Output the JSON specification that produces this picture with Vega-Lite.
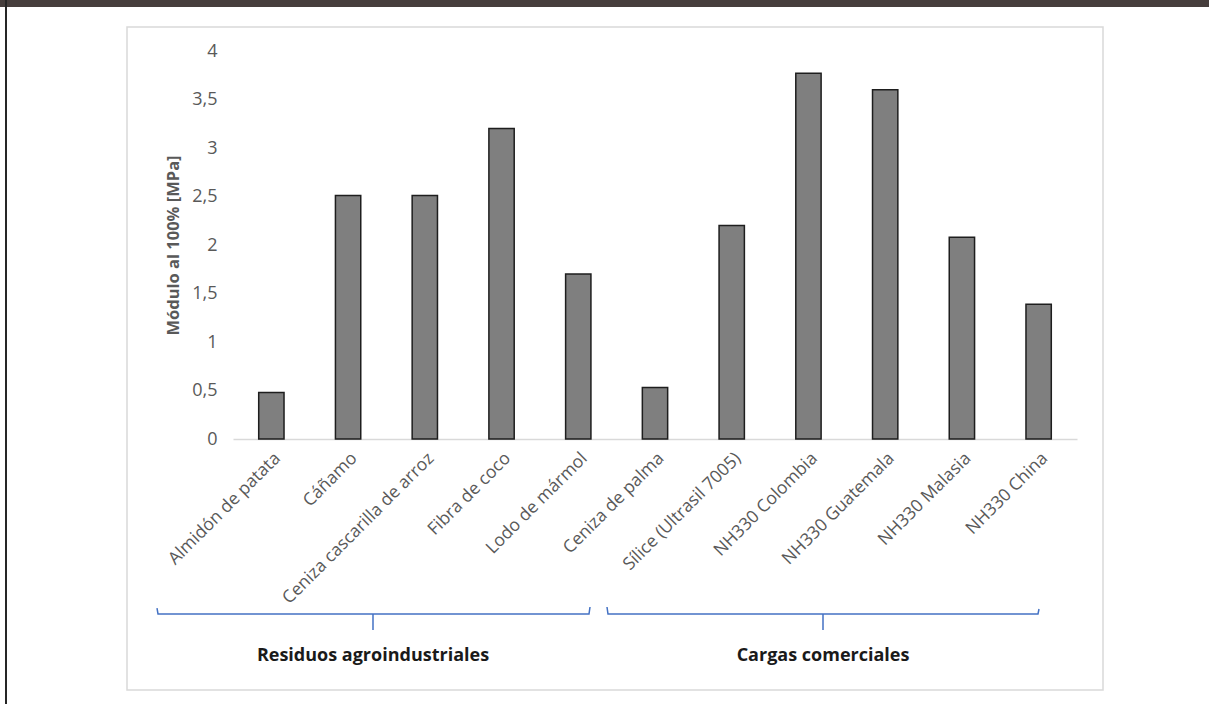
{
  "$schema": "https://vega.github.io/schema/vega-lite/v6.json",
  "autosize": "none",
  "width": 844,
  "height": 388,
  "padding": {"left": 233, "top": 51, "right": 132, "bottom": 265},
  "background": "white",
  "config": {
    "font": "Open Sans",
    "view": {"stroke": null}
  },
  "datasets": {
    "bars": [
      {"material": "Almidón de patata", "value": 0.48},
      {"material": "Cáñamo", "value": 2.51},
      {"material": "Ceniza cascarilla de arroz", "value": 2.51},
      {"material": "Fibra de coco", "value": 3.2},
      {"material": "Lodo de mármol", "value": 1.7},
      {"material": "Ceniza de palma", "value": 0.53},
      {"material": "Sílice (Ultrasil 7005)", "value": 2.2},
      {"material": "NH330 Colombia", "value": 3.77},
      {"material": "NH330 Guatemala", "value": 3.6},
      {"material": "NH330 Malasia", "value": 2.08},
      {"material": "NH330 China", "value": 1.39}
    ],
    "braces": [
      {"group": "Residuos agroindustriales", "o": 1, "ax": -0.9905, "ay": -1.7423},
      {"group": "Residuos agroindustriales", "o": 2, "ax": -0.9775, "ay": -1.8041},
      {"group": "Residuos agroindustriales", "o": 3, "ax": 1.8246, "ay": -1.8041},
      {"group": "Residuos agroindustriales", "o": 4, "ax": 1.8246, "ay": -1.9691},
      {"group": "Residuos agroindustriales", "o": 5, "ax": 1.8246, "ay": -1.8041},
      {"group": "Residuos agroindustriales", "o": 6, "ax": 4.6398, "ay": -1.8041},
      {"group": "Residuos agroindustriales", "o": 7, "ax": 4.6529, "ay": -1.7320},
      {"group": "Cargas comerciales", "o": 1, "ax": 4.8744, "ay": -1.7320},
      {"group": "Cargas comerciales", "o": 2, "ax": 4.8874, "ay": -1.8041},
      {"group": "Cargas comerciales", "o": 3, "ax": 7.6896, "ay": -1.8041},
      {"group": "Cargas comerciales", "o": 4, "ax": 7.6896, "ay": -1.9691},
      {"group": "Cargas comerciales", "o": 5, "ax": 7.6896, "ay": -1.8041},
      {"group": "Cargas comerciales", "o": 6, "ax": 10.4917, "ay": -1.8041},
      {"group": "Cargas comerciales", "o": 7, "ax": 10.5047, "ay": -1.7526}
    ],
    "groups": [
      {"group": "Residuos agroindustriales", "ax": 1.8246, "ay": -2.2371},
      {"group": "Cargas comerciales", "ax": 7.6896, "ay": -2.2371}
    ],
    "frame": [
      {"x1": -1.3815, "x2": 11.339, "y1": 4.2474, "y2": -2.5876}
    ],
    "border": [
      {"x1": -3.0367, "x2": 12.7204, "y1": 4.5258, "y2": 4.4536}
    ],
    "leftline": [
      {"x1": -2.9585, "y1": 4.5258, "y2": -2.732}
    ]
  },
  "resolve": {"scale": {"x": "independent", "y": "independent"}},
  "layer": [
    {
      "data": {"name": "frame"},
      "mark": {"type": "rect", "fill": null, "stroke": "#d9d9d9", "strokeWidth": 1.5},
      "encoding": {
        "x": {"field": "x1", "type": "quantitative", "scale": {"domain": [0, 11], "nice": false, "zero": false}, "axis": null},
        "x2": {"field": "x2"},
        "y": {"field": "y1", "type": "quantitative", "scale": {"domain": [0, 4], "nice": false, "zero": false}, "axis": null},
        "y2": {"field": "y2"}
      }
    },
    {
      "data": {"name": "bars"},
      "mark": {"type": "bar", "fill": "#7f7f7f", "stroke": "#1e1e1e", "strokeWidth": 1.5},
      "encoding": {
        "x": {
          "field": "material", "type": "nominal", "sort": null,
          "scale": {"paddingInner": 0.67, "paddingOuter": 0.335},
          "axis": {
            "title": null, "labelAngle": -45, "labelFontSize": 17.5, "labelColor": "#595959",
            "labelPadding": 10, "ticks": false, "domainColor": "#d9d9d9", "domainWidth": 1.5,
            "labelFont": "Open Sans", "labelLimit": 400, "labelOverlap": false
          }
        },
        "y": {
          "field": "value", "type": "quantitative",
          "scale": {"domain": [0, 4], "nice": false},
          "axis": {
            "title": "Módulo al 100% [MPa]", "titleFontSize": 16.5, "titleFontWeight": "bold",
            "titleColor": "#595959", "titlePadding": 10, "titleFont": "Open Sans",
            "values": [0, 0.5, 1, 1.5, 2, 2.5, 3, 3.5, 4],
            "labelExpr": "replace(format(datum.value, ''), '.', ',')",
            "labelFontSize": 18, "labelColor": "#595959", "labelPadding": 16,
            "ticks": false, "domain": false, "gridColor": "#d9d9d9", "gridWidth": 1.2,
            "labelFont": "Open Sans"
          }
        }
      }
    },
    {
      "data": {"name": "braces"},
      "mark": {"type": "line", "stroke": "#4472c4", "strokeWidth": 1.5},
      "encoding": {
        "detail": {"field": "group"},
        "order": {"field": "o"},
        "x": {"field": "ax", "type": "quantitative", "scale": {"domain": [0, 11], "nice": false, "zero": false}, "axis": null},
        "y": {"field": "ay", "type": "quantitative", "scale": {"domain": [0, 4], "nice": false, "zero": false}, "axis": null}
      }
    },
    {
      "data": {"name": "groups"},
      "mark": {"type": "text", "fontWeight": "bold", "fontSize": 18, "color": "#1a1a1a", "align": "center", "baseline": "middle"},
      "encoding": {
        "text": {"field": "group"},
        "x": {"field": "ax", "type": "quantitative", "scale": {"domain": [0, 11], "nice": false, "zero": false}, "axis": null},
        "y": {"field": "ay", "type": "quantitative", "scale": {"domain": [0, 4], "nice": false, "zero": false}, "axis": null}
      }
    },
    {
      "data": {"name": "border"},
      "mark": {"type": "rect", "fill": "#463e3c"},
      "encoding": {
        "x": {"field": "x1", "type": "quantitative", "scale": {"domain": [0, 11], "nice": false, "zero": false}, "axis": null},
        "x2": {"field": "x2"},
        "y": {"field": "y1", "type": "quantitative", "scale": {"domain": [0, 4], "nice": false, "zero": false}, "axis": null},
        "y2": {"field": "y2"}
      }
    },
    {
      "data": {"name": "leftline"},
      "mark": {"type": "rule", "color": "#262626", "strokeWidth": 2},
      "encoding": {
        "x": {"field": "x1", "type": "quantitative", "scale": {"domain": [0, 11], "nice": false, "zero": false}, "axis": null},
        "y": {"field": "y1", "type": "quantitative", "scale": {"domain": [0, 4], "nice": false, "zero": false}, "axis": null},
        "y2": {"field": "y2"}
      }
    }
  ]
}
